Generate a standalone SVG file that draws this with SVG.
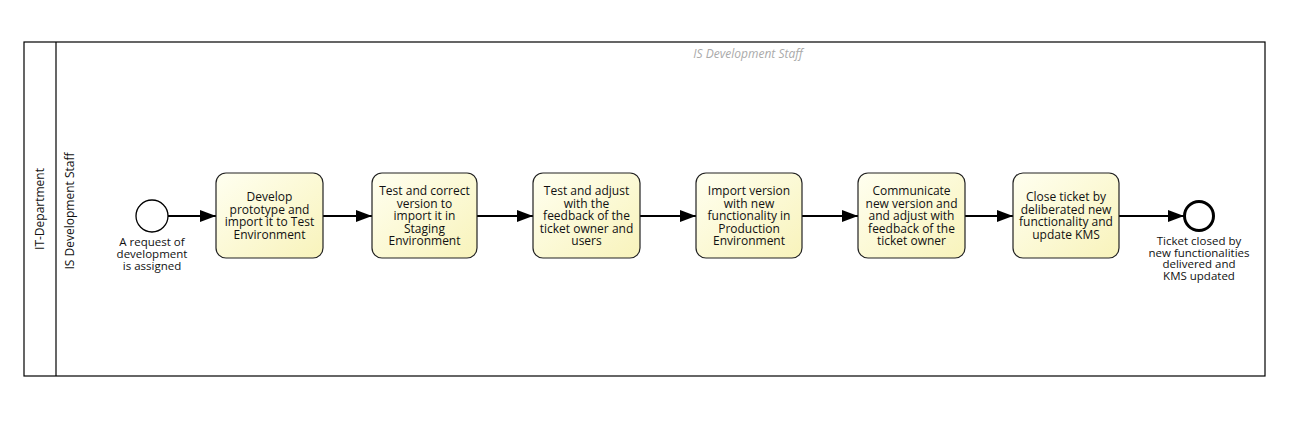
<svg xmlns="http://www.w3.org/2000/svg" width="1295" height="422" viewBox="0 0 1295 422">
<style>
text{font-family:"Open Sans","Liberation Sans",sans-serif;font-size:12px;fill:#111;text-anchor:middle}
.task{fill:url(#g);stroke:#222;stroke-width:1.2}
.flow{fill:none;stroke:#000;stroke-width:2;marker-end:url(#arr)}
.lbl{font-size:11.5px}
</style>
<defs>
<linearGradient id="g" x1="0" y1="0" x2="1" y2="1">
<stop offset="0" stop-color="#fffff0"/>
<stop offset="1" stop-color="#f8f3bb"/>
</linearGradient>
<marker id="arr" markerWidth="16" markerHeight="12" refX="16" refY="6" orient="auto" markerUnits="userSpaceOnUse">
<path d="M0,0 L16,6 L0,12 Z" fill="#000"/>
</marker>
</defs>
<rect width="1295" height="422" fill="#fff"/>
<g id="pool">
<rect x="24" y="42" width="1241" height="334" fill="none" stroke="#000" stroke-width="1.2"/>
<line x1="56" y1="42" x2="56" y2="376" stroke="#000" stroke-width="1.2"/>
<text transform="translate(44,209) rotate(-90)">IT-Department</text>
<text transform="translate(74,211) rotate(-90)">IS Development Staff</text>
<text x="748" y="58" style="fill:#aaa;font-style:italic">IS Development Staff</text>
</g>
<g id="connectors">
<path class="flow" d="M168,216 H216"/>
<path class="flow" d="M323,216 H372"/>
<path class="flow" d="M477,216 H533"/>
<path class="flow" d="M640,216 H696"/>
<path class="flow" d="M802,216 H858"/>
<path class="flow" d="M965,216 H1013"/>
<path class="flow" d="M1119,216 H1184"/>
</g>
<g id="start">
<circle cx="152" cy="216" r="16" fill="#fff" stroke="#000" stroke-width="1.3"/>
<text class="lbl" y="246"><tspan x="152">A request of</tspan><tspan x="152" dy="12">development</tspan><tspan x="152" dy="12">is assigned</tspan></text>
</g>
<g id="t1">
<rect class="task" x="216" y="173" width="107" height="85" rx="10"/>
<text y="201"><tspan x="269.5">Develop</tspan><tspan x="269.5" dy="12.5">prototype and</tspan><tspan x="269.5" dy="12.5">import it to Test</tspan><tspan x="269.5" dy="12.5">Environment</tspan></text>
</g>
<g id="t2">
<rect class="task" x="372" y="173" width="105" height="85" rx="10"/>
<text y="195"><tspan x="424.5">Test and correct</tspan><tspan x="424.5" dy="12.5">version to</tspan><tspan x="424.5" dy="12.5">import it in</tspan><tspan x="424.5" dy="12.5">Staging</tspan><tspan x="424.5" dy="12.5">Environment</tspan></text>
</g>
<g id="t3">
<rect class="task" x="533" y="173" width="107" height="85" rx="10"/>
<text y="195"><tspan x="586.5">Test and adjust</tspan><tspan x="586.5" dy="12.5">with the</tspan><tspan x="586.5" dy="12.5">feedback of the</tspan><tspan x="586.5" dy="12.5">ticket owner and</tspan><tspan x="586.5" dy="12.5">users</tspan></text>
</g>
<g id="t4">
<rect class="task" x="696" y="173" width="106" height="85" rx="10"/>
<text y="195"><tspan x="749">Import version</tspan><tspan x="749" dy="12.5">with new</tspan><tspan x="749" dy="12.5">functionality in</tspan><tspan x="749" dy="12.5">Production</tspan><tspan x="749" dy="12.5">Environment</tspan></text>
</g>
<g id="t5">
<rect class="task" x="858" y="173" width="107" height="85" rx="10"/>
<text y="195"><tspan x="911.5">Communicate</tspan><tspan x="911.5" dy="12.5">new version and</tspan><tspan x="911.5" dy="12.5">and adjust with</tspan><tspan x="911.5" dy="12.5">feedback of the</tspan><tspan x="911.5" dy="12.5">ticket owner</tspan></text>
</g>
<g id="t6">
<rect class="task" x="1013" y="173" width="106" height="85" rx="10"/>
<text y="201"><tspan x="1066">Close ticket by</tspan><tspan x="1066" dy="12.5">deliberated new</tspan><tspan x="1066" dy="12.5">functionality and</tspan><tspan x="1066" dy="12.5">update KMS</tspan></text>
</g>
<g id="end">
<circle cx="1199" cy="216" r="14.5" fill="#fff" stroke="#000" stroke-width="3"/>
<text class="lbl" y="245"><tspan x="1199">Ticket closed by</tspan><tspan x="1199" dy="11.5">new functionalities</tspan><tspan x="1199" dy="11.5">delivered and</tspan><tspan x="1199" dy="11.5">KMS updated</tspan></text>
</g>
</svg>
